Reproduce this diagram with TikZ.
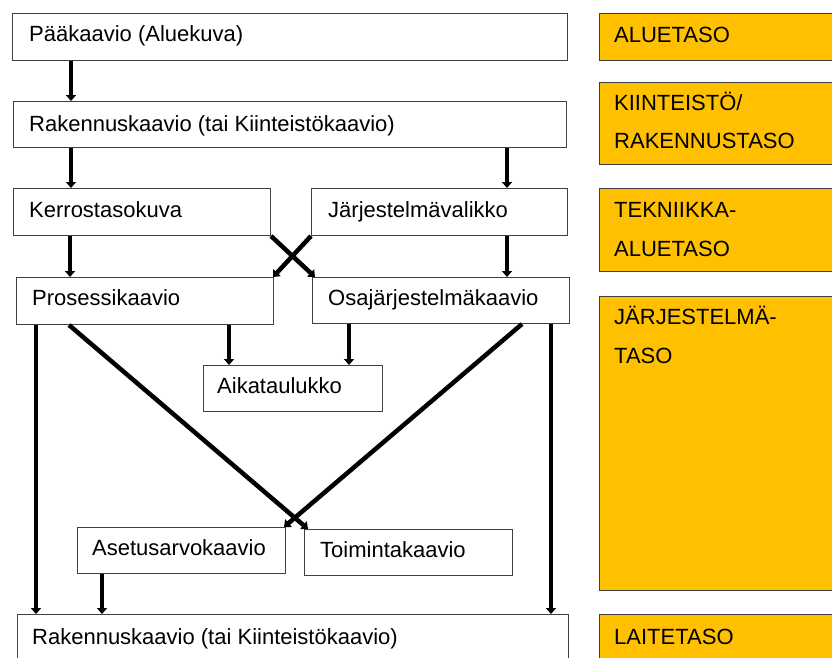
\documentclass[tikz,border=0pt]{standalone}
\usepackage{fontspec}
\setmainfont{Liberation Sans}
\usetikzlibrary{arrows.meta}
\definecolor{lvl}{HTML}{FFC000}
\definecolor{edge}{HTML}{404040}
\tikzset{
  box/.style={draw=edge, line width=1pt, fill=white, anchor=north west, inner sep=0pt},
  lvlbox/.style={draw=edge, line width=1pt, fill=lvl, anchor=north west, inner sep=0pt},
  txt/.style={anchor=base west, inner sep=0pt, font=\fontsize{22}{26}\selectfont},
  arr/.style={line width=4.5pt, -{Triangle[width=10pt,length=6pt]}},
}
\begin{document}
\begin{tikzpicture}[x=1pt,y=-1pt]
\useasboundingbox (0,0) rectangle (832,657);
\clip (0,0) rectangle (832,657);
% level boxes
\node[lvlbox, minimum width=250, minimum height=47] (o1) at (599,13) {};
\node[lvlbox, minimum width=250, minimum height=82] (o2) at (599,82) {};
\node[lvlbox, minimum width=250, minimum height=83] (o3) at (599,188) {};
\node[lvlbox, minimum width=250, minimum height=294] (o4) at (599,296) {};
\node[lvlbox, minimum width=250, minimum height=60] (o5) at (599,614) {};
\node[txt] (to1) at ([shift={(15,29)}]o1.north west) {ALUETASO};
\node[txt] (to2a) at ([shift={(15,28)}]o2.north west) {KIINTEISTÖ/};
\node[txt] (to2b) at ([shift={(15,66)}]o2.north west) {RAKENNUSTASO};
\node[txt] (to3a) at ([shift={(15,29)}]o3.north west) {TEKNIIKKA-};
\node[txt] (to3b) at ([shift={(15,68)}]o3.north west) {ALUETASO};
\node[txt] (to4a) at ([shift={(15,28)}]o4.north west) {JÄRJESTELMÄ-};
\node[txt] (to4b) at ([shift={(15,67)}]o4.north west) {TASO};
\node[txt] (to5) at ([shift={(15,30)}]o5.north west) {LAITETASO};
% diagram boxes
\node[box, minimum width=555, minimum height=47] (b1) at (12,13) {};
\node[box, minimum width=553, minimum height=46] (b2) at (13,101) {};
\node[box, minimum width=257, minimum height=47] (b3) at (13,188) {};
\node[box, minimum width=256, minimum height=47] (b4) at (311,188) {};
\node[box, minimum width=257, minimum height=47] (b5) at (16,277) {};
\node[box, minimum width=257, minimum height=46] (b6) at (312,277) {};
\node[box, minimum width=179, minimum height=46] (ak) at (203,365) {};
\node[box, minimum width=208, minimum height=46] (as) at (77,527) {};
\node[box, minimum width=208, minimum height=46] (tk) at (304,529) {};
\node[box, minimum width=551, minimum height=60] (fn) at (17,614) {};
\node[txt] (t1) at ([shift={(17,28)}]b1.north west) {Pääkaavio (Aluekuva)};
\node[txt] (t2) at ([shift={(16,30)}]b2.north west) {Rakennuskaavio (tai Kiinteistökaavio)};
\node[txt] (t3) at ([shift={(16,29)}]b3.north west) {Kerrostasokuva};
\node[txt] (t4) at ([shift={(17,29)}]b4.north west) {Järjestelmävalikko};
\node[txt] (t5) at ([shift={(16,28)}]b5.north west) {Prosessikaavio};
\node[txt] (t6) at ([shift={(16,28)}]b6.north west) {Osajärjestelmäkaavio};
\node[txt] (t7) at ([shift={(14,28)}]ak.north west) {Aikataulukko};
\node[txt] (t8) at ([shift={(15,28)}]as.north west) {Asetusarvokaavio};
\node[txt] (t9) at ([shift={(16,28)}]tk.north west) {Toimintakaavio};
\node[txt] (t10) at ([shift={(15,30)}]fn.north west) {Rakennuskaavio (tai Kiinteistökaavio)};
% connectors
\draw[arr] ([xshift=59]b1.south west) -- ([xshift=58]b2.north west);
\draw[arr] ([xshift=58]b2.south west) -- ([xshift=58]b3.north west);
\draw[arr] ([xshift=196]b4.north west |- b2.south) -- ([xshift=196]b4.north west);
\draw[arr] ([xshift=57]b3.south west) -- ([xshift=54]b5.north west);
\draw[arr] ([xshift=196]b4.south west) -- ([xshift=195]b6.north west);
\draw[arr] (b3.south east) -- ([xshift=3]b6.north west);
\draw[arr] (b4.south west) -- ([xshift=-1]b5.north east);
\draw[arr] ([xshift=213]b5.south west) -- ([xshift=26]ak.north west);
\draw[arr] ([xshift=37]b6.south west) -- ([xshift=146]ak.north west);
\draw[arr] ([xshift=20]b5.south west) -- ([xshift=19]fn.north west);
\draw[arr] ([xshift=53]b5.south west) -- ([xshift=4]tk.north west);
\draw[arr] ([xshift=210]b6.south west) -- ([xshift=-2]as.north east);
\draw[arr] ([xshift=25]as.south west) -- ([xshift=85]fn.north west);
\draw[arr] ([xshift=239]b6.south west) -- ([xshift=534]fn.north west);
\end{tikzpicture}
\end{document}
